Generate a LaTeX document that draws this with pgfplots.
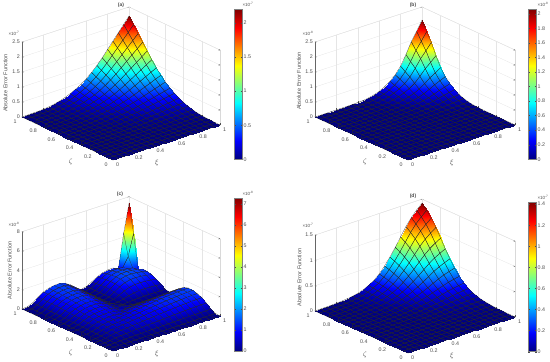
\documentclass[border=0pt]{standalone}
\usepackage{fontspec}
\setmainfont{Liberation Sans}
\usepackage{pgfplots}
\usepackage{pgfplotstable}
\pgfplotsset{compat=1.18}
\usepgfplotslibrary{patchplots}
\definecolor{tk}{gray}{0.3}
\pgfplotsset{
 panel/.style={
  xmin=0,xmax=1,ymin=0,ymax=1,
  xtick={0,0.2,...,1}, ytick={0,0.2,...,1},
  xticklabels={0,0.2,0.4,0.6,0.8,1}, yticklabels={0,0.2,0.4,0.6,0.8,1},
  grid=major, grid style={black!10,line width=.3pt},
  axis line style={black!15,line width=.3pt},
  tick style={tk,line width=.25pt}, major tick length=1.5pt,
  tick label style={font=\fontsize{5.3}{6}\selectfont,text=tk,inner sep=0pt},
  scaled x ticks=false,scaled y ticks=false,scaled z ticks=false,
  colormap/jet, point meta min=0,
  clip=false,
  xlabel={$\xi$}, ylabel={$\zeta$}, zlabel={Absolute Error Function},
  label style={font=\fontsize{5.5}{6}\selectfont,text=tk,inner sep=0pt},
  title style={font=\fontsize{5}{6}\selectfont\bfseries,text=tk,inner sep=0pt},
  xticklabel style={anchor=center,xshift=4.5pt,yshift=-5pt},
  yticklabel style={anchor=center,xshift=-7pt,yshift=-5pt},
  zticklabel style={anchor=east,xshift=-2pt,yshift=0pt},
  xtick pos=left,ytick pos=left,
  xlabel style={font=\fontsize{7}{8}\selectfont,at={(axis cs:.4,0,0)},anchor=center,xshift=1pt,yshift=-17pt,rotate=0,sloped=false},
  ylabel style={font=\fontsize{7}{8}\selectfont,at={(axis cs:0,.4,0)},anchor=center,xshift=-6pt,yshift=-19pt,rotate=0,sloped=false},
 },
 cb/.style n args={4}{colorbar,colorbar style={at={(parent axis.origin)},anchor=south west,xshift=#1,yshift=#4,
   scale only axis,width=8.5pt,height=#2,ytick=#3,
   tick label style={font=\fontsize{5.3}{6}\selectfont,text=tk},
   axis line style={black!50,line width=.4pt},
   yticklabel style={inner sep=1pt},major tick length=1.5pt,
   scaled y ticks=false,
   /pgf/number format/fixed,/pgf/number format/assume math mode=true,
   yticklabel={\pgfmathprintnumber{\tick}},
 }},
 srf/.style={surf,shader=interp,mesh/rows=21,point meta=z},
 msh/.style={mesh,mesh/rows=21,line width=.2pt,point meta=0,colormap={blk}{rgb255(0cm)=(40,40,40) rgb255(1cm)=(40,40,40)}},
 fsrf/.style={surf,shader=faceted interp,faceted color={rgb:black,5;white,1},line width=.2pt,mesh/rows=21,point meta=z},
 grd/.style={/pgfplots/table/x index=0,/pgfplots/table/y index=0,/pgfplots/table/z index=0,/pgfplots/table/x expr={mod(\coordindex,21)/20},/pgfplots/table/y expr={floor(\coordindex/21)/20}},
}
\newcommand{\ex}[3]{\node[font=\fontsize{4.5}{5}\selectfont,text=tk] at (#1,#2) {×10\textsuperscript{-#3}};}
\pgfplotstableread[row sep=\\]{
z\\
0\\0\\0\\0\\0\\0\\0\\0\\0\\0\\0\\0\\0\\0\\0\\0\\0\\0\\0\\0\\0\\
0\\0\\0\\0\\0\\0\\0\\0\\0\\.001\\.001\\.001\\.001\\.001\\.002\\.002\\.003\\.003\\.004\\.004\\.004\\
0\\0\\0\\0\\0\\0\\0\\0\\.001\\.001\\.001\\.002\\.002\\.003\\.004\\.004\\.005\\.006\\.007\\.008\\.009\\
0\\0\\0\\0\\0\\0\\.001\\.001\\.001\\.002\\.002\\.003\\.004\\.005\\.006\\.008\\.009\\.011\\.012\\.014\\.015\\
0\\0\\0\\0\\0\\.001\\.001\\.001\\.002\\.003\\.004\\.005\\.007\\.009\\.011\\.013\\.016\\.018\\.021\\.024\\.026\\
0\\0\\0\\0\\.001\\.001\\.002\\.002\\.004\\.005\\.007\\.009\\.011\\.015\\.018\\.022\\.026\\.031\\.035\\.04\\.044\\
0\\0\\0\\.001\\.001\\.002\\.003\\.004\\.006\\.009\\.012\\.015\\.02\\.025\\.032\\.039\\.046\\.054\\.062\\.069\\.077\\
0\\0\\0\\.001\\.001\\.002\\.004\\.007\\.01\\.014\\.019\\.024\\.031\\.04\\.05\\.061\\.073\\.085\\.097\\.109\\.121\\
0\\0\\.001\\.001\\.002\\.004\\.006\\.01\\.014\\.02\\.027\\.035\\.046\\.058\\.072\\.088\\.106\\.123\\.141\\.158\\.176\\
0\\.001\\.001\\.002\\.003\\.005\\.009\\.014\\.02\\.029\\.039\\.051\\.066\\.083\\.104\\.127\\.152\\.177\\.202\\.228\\.253\\
0\\.001\\.001\\.002\\.004\\.007\\.012\\.019\\.027\\.039\\.053\\.068\\.089\\.113\\.14\\.171\\.205\\.239\\.273\\.307\\.341\\
0\\.001\\.002\\.003\\.005\\.009\\.015\\.024\\.035\\.051\\.068\\.088\\.114\\.145\\.18\\.22\\.264\\.308\\.352\\.396\\.44\\
0\\.001\\.002\\.004\\.007\\.011\\.02\\.031\\.046\\.066\\.089\\.114\\.149\\.189\\.235\\.286\\.343\\.4\\.458\\.515\\.572\\
0\\.001\\.003\\.005\\.009\\.015\\.025\\.04\\.058\\.083\\.113\\.145\\.189\\.24\\.298\\.363\\.436\\.508\\.581\\.653\\.726\\
0\\.002\\.004\\.006\\.011\\.018\\.032\\.05\\.072\\.104\\.14\\.18\\.235\\.298\\.37\\.451\\.541\\.631\\.722\\.812\\.902\\
0\\.002\\.004\\.008\\.013\\.022\\.039\\.061\\.088\\.127\\.171\\.22\\.286\\.363\\.451\\.55\\.66\\.77\\.88\\.99\\1.1\\
0\\.003\\.005\\.009\\.016\\.026\\.046\\.073\\.106\\.152\\.205\\.264\\.343\\.436\\.541\\.66\\.792\\.924\\1.056\\1.188\\1.32\\
0\\.003\\.006\\.011\\.018\\.031\\.054\\.085\\.123\\.177\\.239\\.308\\.4\\.508\\.631\\.77\\.924\\1.078\\1.232\\1.386\\1.54\\
0\\.004\\.007\\.012\\.021\\.035\\.062\\.097\\.141\\.202\\.273\\.352\\.458\\.581\\.722\\.88\\1.056\\1.232\\1.408\\1.584\\1.76\\
0\\.004\\.008\\.014\\.024\\.04\\.069\\.109\\.158\\.228\\.307\\.396\\.515\\.653\\.812\\.99\\1.188\\1.386\\1.584\\1.782\\1.98\\
0\\.004\\.009\\.015\\.026\\.044\\.077\\.121\\.176\\.253\\.341\\.44\\.572\\.726\\.902\\1.1\\1.32\\1.54\\1.76\\1.98\\2.2\\
}\tabA
\pgfplotstableread[row sep=\\]{
z\\
0\\0\\0\\0\\0\\0\\0\\0\\0\\0\\0\\0\\0\\0\\0\\0\\0\\0\\0\\0\\0\\
0\\0\\0\\0\\0\\0\\0\\0\\0\\0\\0\\0\\0\\0\\0\\0\\0\\0\\0\\0\\0\\
0\\0\\0\\0\\0\\0\\0\\0\\0\\0\\0\\0\\0\\0\\0\\0\\0\\0\\0\\0\\0\\
0\\0\\0\\0\\0\\0\\0\\0\\0\\0\\0\\0\\0\\0\\0\\.001\\.001\\.001\\.001\\.002\\.002\\
0\\0\\0\\0\\0\\0\\0\\0\\0\\0\\0\\0\\0\\0\\0\\.001\\.001\\.001\\.001\\.002\\.002\\
0\\0\\0\\0\\0\\0\\0\\0\\0\\0\\0\\0\\0\\0\\.001\\.001\\.001\\.002\\.003\\.003\\.004\\
0\\0\\0\\0\\0\\0\\0\\0\\0\\0\\0\\0\\0\\.001\\.001\\.002\\.002\\.003\\.004\\.005\\.006\\
0\\0\\0\\0\\0\\0\\0\\0\\0\\0\\0\\0\\.001\\.001\\.002\\.003\\.004\\.005\\.007\\.009\\.01\\
0\\0\\0\\0\\0\\0\\0\\0\\0\\0\\0\\.001\\.001\\.002\\.003\\.004\\.006\\.008\\.011\\.014\\.016\\
0\\0\\0\\0\\0\\0\\0\\0\\0\\0\\.001\\.001\\.002\\.003\\.004\\.006\\.009\\.013\\.018\\.021\\.025\\
0\\0\\0\\0\\0\\0\\0\\0\\0\\.001\\.001\\.002\\.004\\.006\\.009\\.013\\.019\\.027\\.037\\.044\\.052\\
0\\0\\0\\0\\0\\0\\0\\0\\.001\\.001\\.002\\.004\\.007\\.011\\.017\\.024\\.034\\.049\\.066\\.079\\.093\\
0\\0\\0\\0\\0\\0\\0\\.001\\.001\\.002\\.004\\.007\\.012\\.019\\.028\\.04\\.057\\.082\\.11\\.131\\.155\\
0\\0\\0\\0\\0\\0\\.001\\.001\\.002\\.003\\.006\\.011\\.019\\.03\\.044\\.064\\.091\\.131\\.175\\.21\\.247\\
0\\0\\0\\0\\0\\.001\\.001\\.002\\.003\\.004\\.009\\.017\\.028\\.044\\.067\\.096\\.137\\.197\\.263\\.315\\.371\\
0\\0\\0\\.001\\.001\\.001\\.002\\.003\\.004\\.006\\.013\\.024\\.04\\.064\\.096\\.139\\.198\\.284\\.381\\.456\\.536\\
0\\0\\0\\.001\\.001\\.002\\.002\\.004\\.006\\.009\\.019\\.034\\.057\\.091\\.137\\.198\\.282\\.404\\.541\\.648\\.762\\
0\\0\\0\\.001\\.001\\.002\\.003\\.005\\.009\\.013\\.027\\.049\\.082\\.131\\.197\\.284\\.404\\.579\\.775\\.928\\1.092\\
0\\0\\0\\.001\\.001\\.003\\.004\\.007\\.012\\.018\\.037\\.066\\.11\\.176\\.263\\.38\\.541\\.775\\1.039\\1.244\\1.463\\
0\\0\\0\\.002\\.002\\.004\\.005\\.009\\.014\\.021\\.044\\.079\\.131\\.21\\.315\\.455\\.648\\.928\\1.244\\1.488\\1.751\\
0\\0\\0\\.002\\.002\\.004\\.006\\.01\\.016\\.025\\.052\\.093\\.155\\.247\\.371\\.536\\.762\\1.092\\1.463\\1.751\\2.06\\
}\tabB
\pgfplotstableread[row sep=\\]{
z\\
0\\0\\0\\0\\0\\0\\0\\0\\0\\0\\0\\0\\0\\0\\0\\0\\0\\0\\0\\0\\0\\
0\\.003\\.007\\.009\\.012\\.015\\.017\\.019\\.021\\.023\\.025\\.027\\.03\\.032\\.034\\.035\\.037\\.038\\.039\\.04\\.041\\
0\\.007\\.044\\.063\\.083\\.099\\.116\\.13\\.144\\.157\\.171\\.185\\.199\\.213\\.226\\.237\\.248\\.257\\.265\\.27\\.276\\
0\\.009\\.063\\.159\\.207\\.248\\.29\\.324\\.359\\.393\\.428\\.462\\.497\\.531\\.566\\.593\\.621\\.642\\.662\\.676\\.69\\
0\\.012\\.083\\.207\\.311\\.373\\.435\\.486\\.538\\.59\\.642\\.693\\.745\\.797\\.849\\.89\\.932\\.963\\.994\\1.014\\1.035\\
0\\.015\\.099\\.248\\.373\\.447\\.522\\.584\\.646\\.708\\.77\\.832\\.894\\.956\\1.018\\1.068\\1.118\\1.155\\1.192\\1.217\\1.242\\
0\\.017\\.116\\.29\\.435\\.522\\.568\\.635\\.703\\.771\\.838\\.906\\.973\\1.041\\1.109\\1.163\\1.217\\1.257\\1.298\\1.325\\1.352\\
0\\.019\\.13\\.324\\.486\\.584\\.635\\.649\\.718\\.787\\.856\\.925\\.994\\1.063\\1.132\\1.187\\1.242\\1.283\\1.325\\1.352\\1.38\\
0\\.021\\.144\\.359\\.538\\.646\\.703\\.718\\.631\\.692\\.753\\.813\\.874\\.935\\.995\\1.044\\1.093\\1.129\\1.165\\1.19\\1.214\\
0\\.023\\.157\\.393\\.59\\.708\\.771\\.787\\.692\\.503\\.547\\.592\\.636\\.68\\.724\\.759\\.795\\.821\\.848\\.865\\.883\\
0\\.025\\.171\\.428\\.642\\.77\\.838\\.856\\.753\\.547\\.257\\.277\\.298\\.319\\.339\\.356\\.373\\.385\\.397\\.406\\.414\\
0\\.027\\.185\\.462\\.693\\.832\\.906\\.925\\.813\\.592\\.277\\.3\\.16\\.06\\.023\\.024\\.025\\.026\\.027\\.027\\.028\\
0\\.03\\.199\\.497\\.745\\.894\\.973\\.994\\.874\\.636\\.298\\.16\\.03\\.066\\.115\\.151\\.171\\.174\\.167\\.157\\.139\\
0\\.032\\.213\\.531\\.797\\.956\\1.041\\1.063\\.935\\.68\\.319\\.06\\.066\\.209\\.364\\.479\\.54\\.551\\.529\\.496\\.441\\
0\\.034\\.226\\.566\\.849\\1.018\\1.109\\1.132\\.995\\.724\\.339\\.023\\.115\\.364\\.632\\.833\\.938\\.957\\.919\\.861\\.766\\
0\\.035\\.237\\.593\\.89\\1.068\\1.163\\1.187\\1.044\\.759\\.356\\.024\\.151\\.48\\.833\\1.098\\1.237\\1.262\\1.212\\1.136\\1.01\\
0\\.037\\.248\\.621\\.932\\1.118\\1.217\\1.242\\1.093\\.795\\.373\\.025\\.171\\.54\\.938\\1.236\\1.393\\1.421\\1.364\\1.279\\1.137\\
0\\.038\\.257\\.642\\.963\\1.155\\1.257\\1.283\\1.129\\.821\\.385\\.026\\.174\\.551\\.957\\1.262\\1.421\\1.45\\1.392\\1.305\\1.16\\
0\\.039\\.265\\.662\\.994\\1.192\\1.298\\1.325\\1.165\\.848\\.397\\.027\\.167\\.529\\.919\\1.211\\1.364\\1.392\\1.336\\1.253\\.85\\
0\\.04\\.27\\.676\\1.014\\1.217\\1.325\\1.352\\1.19\\.865\\.406\\.027\\.157\\.496\\.861\\1.135\\1.279\\1.305\\1.253\\2.2\\4.4\\
0\\.041\\.276\\.69\\1.035\\1.242\\1.352\\1.38\\1.214\\.883\\.414\\.028\\.139\\.441\\.766\\1.01\\1.137\\1.16\\.85\\4.4\\7.3\\
}\tabC
\pgfplotstableread[row sep=\\]{
z\\
0\\0\\0\\0\\0\\0\\0\\0\\0\\0\\0\\0\\0\\0\\0\\0\\0\\0\\0\\0\\0\\
0\\0\\0\\0\\0\\0\\0\\0\\0\\0\\0\\0\\0\\0\\.001\\.001\\.001\\.001\\.001\\.001\\.001\\
0\\0\\0\\0\\0\\0\\0\\0\\0\\0\\0\\0\\.001\\.001\\.001\\.002\\.002\\.002\\.003\\.003\\.003\\
0\\0\\0\\0\\0\\0\\0\\0\\0\\0\\.001\\.001\\.001\\.002\\.002\\.003\\.004\\.005\\.005\\.006\\.006\\
0\\0\\0\\0\\0\\0\\0\\0\\0\\.001\\.001\\.002\\.002\\.003\\.004\\.005\\.006\\.008\\.009\\.009\\.01\\
0\\0\\0\\0\\0\\0\\0\\.001\\.001\\.001\\.002\\.003\\.004\\.005\\.007\\.009\\.011\\.013\\.014\\.016\\.017\\
0\\0\\0\\0\\0\\0\\.001\\.001\\.001\\.002\\.003\\.004\\.006\\.008\\.011\\.014\\.018\\.021\\.024\\.026\\.028\\
0\\0\\0\\0\\0\\.001\\.001\\.001\\.002\\.003\\.005\\.006\\.009\\.013\\.017\\.022\\.027\\.032\\.037\\.04\\.043\\
0\\0\\0\\0\\0\\.001\\.001\\.002\\.003\\.004\\.007\\.01\\.014\\.019\\.026\\.033\\.04\\.048\\.054\\.06\\.064\\
0\\0\\0\\0\\.001\\.001\\.002\\.003\\.004\\.007\\.01\\.015\\.021\\.03\\.04\\.05\\.062\\.074\\.084\\.092\\.099\\
0\\0\\0\\.001\\.001\\.002\\.003\\.004\\.007\\.01\\.016\\.022\\.032\\.045\\.06\\.076\\.094\\.112\\.127\\.139\\.149\\
0\\0\\0\\.001\\.001\\.003\\.004\\.006\\.01\\.015\\.022\\.032\\.046\\.064\\.085\\.109\\.134\\.16\\.181\\.198\\.213\\
0\\0\\.001\\.001\\.002\\.004\\.006\\.009\\.014\\.021\\.032\\.046\\.066\\.092\\.122\\.156\\.192\\.229\\.259\\.284\\.305\\
0\\0\\.001\\.002\\.003\\.005\\.009\\.013\\.019\\.03\\.045\\.064\\.092\\.128\\.17\\.217\\.268\\.32\\.362\\.396\\.426\\
0\\.001\\.001\\.002\\.004\\.007\\.011\\.017\\.026\\.04\\.06\\.085\\.122\\.17\\.227\\.29\\.358\\.426\\.483\\.528\\.568\\
0\\.001\\.001\\.003\\.005\\.009\\.014\\.022\\.033\\.051\\.076\\.109\\.156\\.217\\.29\\.369\\.456\\.543\\.615\\.673\\.724\\
0\\.001\\.002\\.004\\.006\\.011\\.018\\.027\\.04\\.063\\.094\\.134\\.192\\.268\\.358\\.456\\.564\\.671\\.761\\.832\\.895\\
0\\.001\\.002\\.004\\.007\\.013\\.021\\.032\\.048\\.075\\.112\\.16\\.229\\.32\\.426\\.543\\.671\\.799\\.905\\.99\\1.065\\
0\\.001\\.002\\.005\\.008\\.014\\.024\\.036\\.054\\.084\\.127\\.181\\.26\\.362\\.483\\.616\\.76\\.905\\1.026\\1.123\\1.207\\
0\\.001\\.003\\.005\\.009\\.016\\.026\\.04\\.059\\.092\\.139\\.198\\.284\\.396\\.528\\.674\\.832\\.99\\1.123\\1.228\\1.321\\
0\\.001\\.003\\.006\\.01\\.017\\.028\\.043\\.064\\.099\\.149\\.213\\.305\\.426\\.568\\.724\\.895\\1.065\\1.207\\1.321\\1.42\\
}\tabD
\begin{document}
\begin{tikzpicture}[x=1pt,y=1pt]
\path[use as bounding box] (0,0) rectangle (550,362);
% (a)
\begin{axis}[panel,at={(113pt,202pt)},anchor=origin,
 x={(107pt,35pt)},y={(-91pt,43pt)},z={(0pt,30pt)},zmin=0,zmax=2.5,
 ztick={0,0.5,1,1.5,2,2.5}, zticklabels={0,0.5,1,1.5,2,2.5},
 point meta max=2.2, cb={112.5pt}{150pt}{{0,0.5,1,1.5,2}}{0.7pt},
 zlabel style={at={(axis cs:0,1,1.25)},anchor=center,rotate=0,xshift=-3.5pt,yshift=16.7pt},
 title={(a)},title style={at={(axis cs:1,1,2.5)},anchor=center,xshift=-8pt,yshift=-4pt},
]
\addplot3[srf] table[grd]{\tabA};
\addplot3[msh] table[grd]{\tabA};
\draw[black!60,line width=.3pt] (axis cs:0,1,0)--(axis cs:0,1,2.5);
\end{axis}
% (b)
\begin{axis}[panel,at={(408pt,202pt)},anchor=origin,
 x={(107pt,35pt)},y={(-93pt,43pt)},z={(0pt,30pt)},zmin=0,zmax=2.5,
 ztick={0,0.5,1,1.5,2,2.5}, zticklabels={0,0.5,1,1.5,2,2.5},
 point meta max=2.06, cb={111.5pt}{150pt}{{0,0.2,0.4,0.6,0.8,1,1.2,1.4,1.6,1.8,2}}{0.7pt},
 zlabel style={at={(axis cs:0,1,1.25)},anchor=center,rotate=0,xshift=-1.5pt,yshift=16pt},
 title={(b)},title style={at={(axis cs:1,1,2.5)},anchor=center,xshift=-9pt,yshift=-4pt},
]
\addplot3[srf] table[grd]{\tabB};
\addplot3[msh] table[grd]{\tabB};
\draw[black!60,line width=.3pt] (axis cs:0,1,0)--(axis cs:0,1,2.5);
\end{axis}
% (c)
\begin{axis}[panel,at={(113pt,11pt)},anchor=origin,
 x={(107pt,35pt)},y={(-91pt,42pt)},z={(0pt,9.66pt)},zmin=0,zmax=8,
 ztick={0,2,4,6,8}, zticklabels={0,2,4,6,8},
 point meta max=7.3, cb={112.5pt}{153.3pt}{{0,1,2,3,4,5,6,7}}{0pt},
 zlabel style={at={(axis cs:0,1,4)},anchor=center,rotate=0,xshift=0pt,yshift=12.4pt},
 title={(c)},title style={at={(axis cs:1,1,8)},anchor=center,xshift=-9pt,yshift=-3pt},
]
\addplot3[fsrf] table[grd]{\tabC};
\draw[black!60,line width=.3pt] (axis cs:0,1,0)--(axis cs:0,1,8);
\end{axis}
% (d)
\begin{axis}[panel,at={(408pt,9pt)},anchor=origin,
 x={(107pt,36pt)},y={(-93pt,42pt)},z={(0pt,50.6pt)},zmin=0,zmax=1.5,
 ztick={0,0.5,1,1.5}, zticklabels={0,0.5,1,1.5},
 point meta max=1.42, cb={111.5pt}{149.7pt}{{0,0.2,0.4,0.6,0.8,1,1.2,1.4}}{1.3pt},
 zlabel style={at={(axis cs:0,1,.75)},anchor=center,rotate=0,xshift=-4.7pt,yshift=15.7pt},
 title={(d)},title style={at={(axis cs:1,1,1.5)},anchor=center,xshift=-9pt,yshift=-3pt},
]
\addplot3[srf] table[grd]{\tabD};
\addplot3[msh] table[grd]{\tabD};
\draw[black!60,line width=.3pt] (axis cs:0,1,0)--(axis cs:0,1,1.5);
\end{axis}
\ex{14}{329}{7}\ex{248}{358}{7}
\ex{308}{329}{8}\ex{543}{358}{8}
\ex{14}{138}{8}\ex{248}{169}{8}
\ex{308}{137}{7}\ex{543}{165}{7}
\end{tikzpicture}
\end{document}
